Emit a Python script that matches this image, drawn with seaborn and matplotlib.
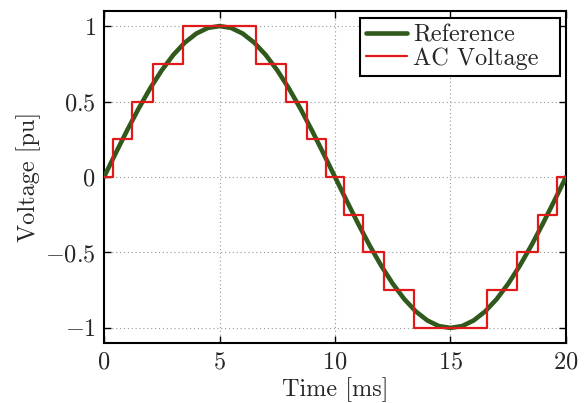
import matplotlib
matplotlib.use("Agg")
import matplotlib.pyplot as plt
import seaborn as sns
import pandas as pd

ref_time = [0.0, 0.5, 1.0, 1.5, 2.0, 2.5, 3.0, 3.5, 4.0, 4.5, 5.0,
            5.5, 6.0, 6.5, 7.0, 7.5, 8.0, 8.5, 9.0, 9.5, 10.0,
            10.5, 11.0, 11.5, 12.0, 12.5, 13.0, 13.5, 14.0, 14.5, 15.0,
            15.5, 16.0, 16.5, 17.0, 17.5, 18.0, 18.5, 19.0, 19.5, 20.0]
ref_volt = [0.0, 0.156, 0.309, 0.454, 0.588, 0.707, 0.809, 0.891, 0.951, 0.988, 1.0,
            0.988, 0.951, 0.891, 0.809, 0.707, 0.588, 0.454, 0.309, 0.156, 0.0,
            -0.156, -0.309, -0.454, -0.588, -0.707, -0.809, -0.891, -0.951, -0.988, -1.0,
            -0.988, -0.951, -0.891, -0.809, -0.707, -0.588, -0.454, -0.309, -0.156, 0.0]

# Staircase AC voltage: switching instants [ms] and levels [pu]
step_time = [0.0, 0.4, 1.2, 2.1, 3.4, 6.6, 7.9, 8.8, 9.6, 10.4, 11.2, 12.1,
             13.4, 16.6, 17.9, 18.8, 19.6, 20.0]
step_level = [0.0, 0.25, 0.5, 0.75, 1.0, 0.75, 0.5, 0.25, 0.0, -0.25, -0.5,
              -0.75, -1.0, -0.75, -0.5, -0.25, 0.0, 0.0]

x_ticks = [0, 5, 10, 15, 20]
x_labels = ["$0$", "$5$", "$10$", "$15$", "$20$"]
y_ticks = [-1, -0.5, 0, 0.5, 1]
y_labels = ["$-1$", "$-0.5$", "$0$", "$0.5$", "$1$"]

sns.set_style("ticks")
plt.rcParams["font.family"] = ["cmr10", "DejaVu Serif"]
plt.rcParams["mathtext.fontset"] = "cm"
plt.rcParams["axes.unicode_minus"] = False

FS = 17.5

fig = plt.figure(figsize=(5.85, 4.03), dpi=100)
ax = fig.add_axes([0.1778, 0.1489, 0.7897, 0.8238])

ref_df = pd.DataFrame({"t": ref_time, "v": ref_volt})
step_df = pd.DataFrame({"t": step_time, "v": step_level})

sns.lineplot(data=ref_df, x="t", y="v", ax=ax, color="#2f5a1c", linewidth=3.3,
             label="Reference", sort=False, zorder=3)
sns.lineplot(data=step_df, x="t", y="v", ax=ax, color="#e01a1a", linewidth=1.6,
             drawstyle="steps-post", label="AC Voltage", sort=False, zorder=4)

ax.set_xlim(0, 20)
ax.set_ylim(-1.1, 1.1)
ax.set_xticks(x_ticks)
ax.set_xticklabels(x_labels)
ax.set_yticks(y_ticks)
ax.set_yticklabels(y_labels)

ax.grid(True, linestyle=(0, (1, 2.5)), color="#999999", linewidth=0.8)
ax.tick_params(direction="in", length=5, width=1, top=True, right=True,
               labelsize=FS, pad=6, color="black")
for s in ax.spines.values():
    s.set_color("black")
    s.set_linewidth(1.5)

ax.set_xlabel("Time [ms]", fontsize=FS, labelpad=3)
ax.set_ylabel("Voltage [pu]", fontsize=FS, labelpad=3)

leg = ax.legend(loc="upper right", bbox_to_anchor=(0.554, 0.5, 0.433, 0.479),
                mode="expand", fontsize=FS, frameon=True, fancybox=False,
                handlelength=1.7, handletextpad=0.25, borderpad=0.25,
                labelspacing=0.05, borderaxespad=0.0)
leg.get_frame().set_edgecolor("black")
leg.get_frame().set_linewidth(1.5)
leg.get_frame().set_alpha(1)

fig.savefig("out.png", dpi=100)
